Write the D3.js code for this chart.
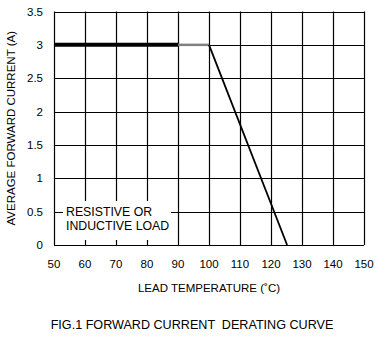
<!DOCTYPE html>
<html>
<head>
<meta charset="utf-8">
<script src="https://cdn.jsdelivr.net/npm/d3@7"></script>
<style>
  body { margin: 0; background: #fff; }
  text { font-family: "Liberation Sans", Arial, sans-serif; fill: #000; }
</style>
</head>
<body>
<script>
// data
const xTicks = [50, 60, 70, 80, 90, 100, 110, 120, 130, 140, 150];
const yTicks = [0, 0.5, 1, 1.5, 2, 2.5, 3, 3.5];
const flatThick = [[50, 3], [90, 3]];
const flatThin = [[90, 3], [100, 3]];
const derate = [[100, 3], [125.2, 0]];
const noteLines = ["RESISTIVE OR", "INDUCTIVE LOAD"];

const width = 385, height = 352;
const margin = { top: 11.5, right: 21, bottom: 107, left: 54 };

const x = d3.scaleLinear().domain([50, 150]).range([margin.left, width - margin.right]);
const y = d3.scaleLinear().domain([0, 3.5]).range([height - margin.bottom, margin.top]);

const svg = d3.select("body").append("svg")
  .attr("width", width)
  .attr("height", height);

// grid
const grid = svg.append("g").attr("stroke", "#000").attr("stroke-width", 1.2);
grid.selectAll(".vx").data(xTicks).join("line")
  .attr("x1", d => Math.round(x(d)) + 0.5).attr("x2", d => Math.round(x(d)) + 0.5)
  .attr("y1", y(0)).attr("y2", y(3.5));
grid.selectAll(".hy").data(yTicks).join("line")
  .attr("y1", d => Math.round(y(d)) + 0.5).attr("y2", d => Math.round(y(d)) + 0.5)
  .attr("x1", x(50)).attr("x2", x(150));

// tick labels
svg.append("g").selectAll("text").data(yTicks).join("text")
  .attr("x", margin.left - 11)
  .attr("y", d => y(d) + 4)
  .attr("text-anchor", "end")
  .style("font-size", "11.5px")
  .text(d => d);

svg.append("g").selectAll("text").data(xTicks).join("text")
  .attr("x", d => x(d))
  .attr("y", y(0) + 23)
  .attr("text-anchor", "middle")
  .style("font-size", "11.5px")
  .text(d => d);

// note box
const note = svg.append("g");
note.append("rect")
  .attr("x", 63).attr("y", 201).attr("width", 108).attr("height", 39)
  .attr("fill", "#fff");
note.selectAll("text").data(noteLines).join("text")
  .attr("x", 66)
  .attr("y", (d, i) => 216 + i * 14)
  .style("font-size", "12.3px")
  .text(d => d);

// curve
const line = d3.line().x(d => x(d[0])).y(d => y(d[1]));
svg.append("path").attr("d", line(flatThin))
  .attr("fill", "none").attr("stroke", "#808080").attr("stroke-width", 2.5);
svg.append("path").attr("d", line(flatThick))
  .attr("fill", "none").attr("stroke", "#000").attr("stroke-width", 4);
svg.append("path").attr("d", line(derate))
  .attr("fill", "none").attr("stroke", "#000").attr("stroke-width", 1.8);

// axis titles
svg.append("text")
  .attr("x", (x(50) + x(150)) / 2)
  .attr("y", 292)
  .attr("text-anchor", "middle")
  .style("font-size", "11.5px")
  .text("LEAD TEMPERATURE (˚C)");

svg.append("text")
  .attr("transform", `translate(15,${(y(0) + y(3.5)) / 2}) rotate(-90)`)
  .attr("text-anchor", "middle")
  .style("font-size", "11.5px")
  .text("AVERAGE FORWARD CURRENT (A)");

svg.append("text")
  .attr("x", 192)
  .attr("y", 329)
  .attr("text-anchor", "middle")
  .style("font-size", "12.6px")
  .style("white-space", "pre")
  .text("FIG.1 FORWARD CURRENT  DERATING CURVE");
</script>
</body>
</html>
